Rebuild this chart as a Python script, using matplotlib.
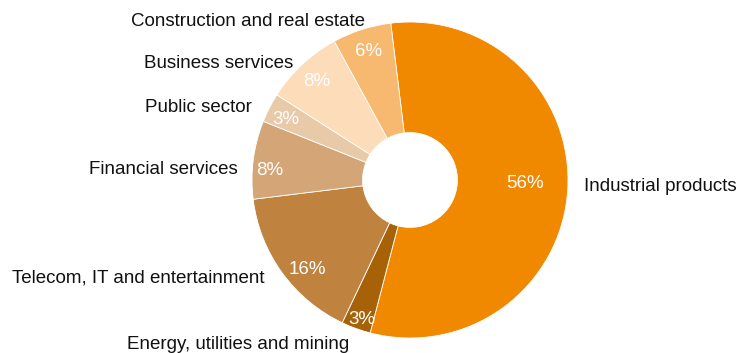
import numpy as np
import matplotlib.pyplot as plt
from matplotlib.transforms import offset_copy

plt.rcParams['font.family'] = ['Liberation Sans', 'DejaVu Sans']

# sectors, clockwise from the top
sectors = [
    "Industrial products",
    "Energy, utilities and mining",
    "Telecom, IT and entertainment",
    "Financial services",
    "Public sector",
    "Business services",
    "Construction and real estate",
]
shares = [56, 3, 16, 8, 3, 8, 6]
colors = ["#F08800", "#A76207", "#BF823F", "#D4A677", "#E8C9A8", "#FCDCB9", "#F7B870"]
pct_radius = [0.73, 0.92, 0.86, 0.89, 0.88, 0.87, 0.87]

# small hand nudges (pixels, x right / y up) for the label placement
name_nudge = [(4, 5), (-2, -4), (-7, 2), (-3, -11), (-6, -5), (0, -8), (7, -4)]
pct_nudge = [(0, 4), (2, -3), (8, -10), (-1, -9), (0, -3), (0, -2), (1, -2)]

W, H = 748, 353
fig = plt.figure(figsize=(W / 100, H / 100), dpi=100)

# pie centre and radius in pixels
cx, cy, R = 410, 353 - 180, 158
ax = fig.add_axes([(cx - R) / W, (cy - R) / H, 2 * R / W, 2 * R / H])

wedges, texts = ax.pie(
    shares,
    colors=colors,
    labels=sectors,
    labeldistance=1.08,
    startangle=97,
    counterclock=False,
    radius=1,
    wedgeprops=dict(width=0.7, edgecolor="white", linewidth=0.6),
    textprops=dict(fontsize=13.5, color="#111111"),
)
for t, (dx, dy) in zip(texts, name_nudge):
    t.set_transform(offset_copy(ax.transData, fig=fig, x=dx, y=dy, units="dots"))

# percentage labels inside each wedge
for w, v, r, (dx, dy) in zip(wedges, shares, pct_radius, pct_nudge):
    mid = np.deg2rad((w.theta1 + w.theta2) / 2)
    ax.text(r * np.cos(mid), r * np.sin(mid), f"{v}%",
            ha="center", va="center", color="white", fontsize=13.5,
            transform=offset_copy(ax.transData, fig=fig, x=dx, y=dy, units="dots"))

ax.set_xlim(-1, 1)
ax.set_ylim(-1, 1)
ax.set_aspect("equal")
ax.axis("off")

fig.savefig("out.png", dpi=100)
